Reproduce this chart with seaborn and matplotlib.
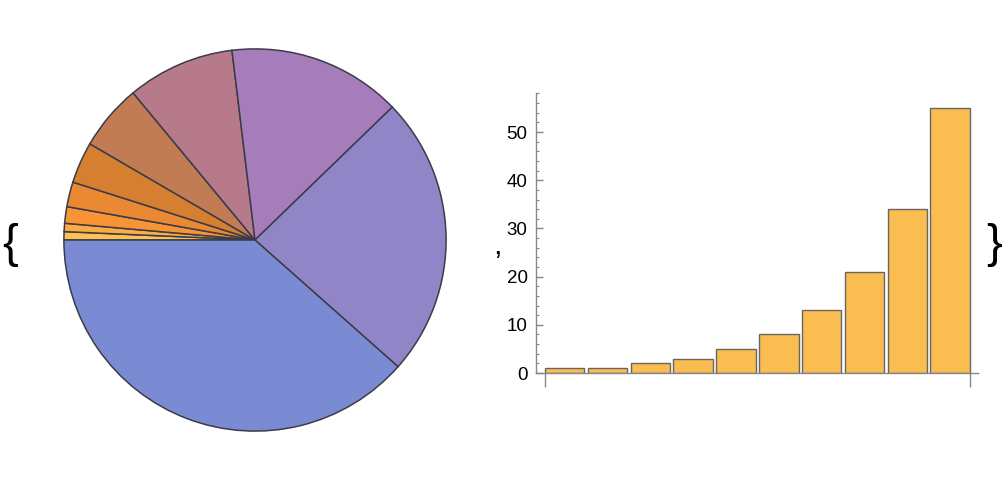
import matplotlib
matplotlib.use('Agg')
import matplotlib.pyplot as plt
from matplotlib.ticker import MultipleLocator
import seaborn as sns

# ── Data ──────────────────────────────────────────────
fib = [1, 1, 2, 3, 5, 8, 13, 21, 34, 55]
bar_labels = [str(i) for i in range(1, 11)]
pie_colors = ['#fbc155', '#fcac45', '#f99436', '#ea8833', '#d67f31',
              '#c27c53', '#b67a8a', '#a67cbb', '#9085c7', '#7b8bd3']
bar_color = '#f9bd51'

sns.set_style('white')
plt.rcParams['font.family'] = ['Liberation Sans', 'DejaVu Sans']

fig = plt.figure(figsize=(10.05, 4.82), dpi=100)

# ── Pie ───────────────────────────────────────────────
ax_pie = fig.add_axes([62 / 1005, 49 / 482, 386 / 1005, 386 / 482])
ax_pie.pie(fib, colors=pie_colors, startangle=180, counterclock=False,
           radius=1, wedgeprops=dict(edgecolor='#3c3c48', linewidth=1.1))
ax_pie.set_xlim(-1.01, 1.01)
ax_pie.set_ylim(-1.01, 1.01)
ax_pie.set_aspect('equal')
ax_pie.axis('off')

# ── Bars ──────────────────────────────────────────────
ax_bar = fig.add_axes([536 / 1005, 109 / 482, 442 / 1005, 280 / 482])
sns.barplot(x=bar_labels, y=fib, color=bar_color, saturation=1, width=0.92,
            edgecolor='#666666', linewidth=1.0, ax=ax_bar)
ax_bar.set_xlim(-0.67, 9.65)
ax_bar.set_ylim(0, 58.1)
for s in ['top', 'right']:
    ax_bar.spines[s].set_visible(False)
for s in ['left', 'bottom']:
    ax_bar.spines[s].set_color('#888888')
    ax_bar.spines[s].set_linewidth(1.0)
ax_bar.set_xticks([-0.46, 9.46])
ax_bar.set_xticklabels(['', ''])
ax_bar.tick_params(axis='x', direction='out', length=10, width=1,
                   color='#888888', bottom=True)
ax_bar.yaxis.set_major_locator(MultipleLocator(10))
ax_bar.yaxis.set_minor_locator(MultipleLocator(2))
ax_bar.tick_params(axis='y', which='major', direction='in', length=5, width=1,
                   color='#888888', labelsize=13.5, labelcolor='black',
                   pad=6, left=True)
ax_bar.tick_params(axis='y', which='minor', direction='in', length=2.5, width=0.8,
                   color='#888888', left=True)
ax_bar.set_xlabel('')
ax_bar.set_ylabel('')

# ── List braces ───────────────────────────────────────
fig.text(2 / 1005, 1 - 245 / 482, '{', fontsize=34, ha='left', va='center',
         family='Liberation Sans', color='black')
fig.text(1002 / 1005, 1 - 245 / 482, '}', fontsize=34, ha='right', va='center',
         family='Liberation Sans', color='black')
fig.text(497 / 1005, 1 - 246 / 482, ',', fontsize=22, ha='center', va='center',
         color='black')

fig.savefig('out.png', dpi=100)
